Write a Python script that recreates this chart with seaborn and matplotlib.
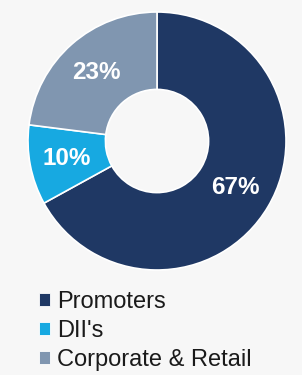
# Donut chart of shareholding pattern
import numpy as np
import pandas as pd
import seaborn as sns
import matplotlib
matplotlib.use('Agg')
import matplotlib.pyplot as plt

# %%
# data
holders = ["Promoters", "DII's", "Corporate & Retail"]
shares = [67, 10, 23]
colours = ['#1f3864', '#17a9e1', '#8096b0']

# %%
sns.set_style('white')
plt.rcParams['font.family'] = ['Liberation Sans', 'DejaVu Sans']
bg = '#f7f7f7'

fig = plt.figure(figsize=(3.02, 3.75), dpi=100)
fig.patch.set_facecolor(bg)

ax = fig.add_axes([28 / 302, 105 / 375, 258 / 302, 258 / 375])
ax.set_facecolor(bg)
wedges, texts, autotexts = ax.pie(
    shares, colors=colours, startangle=90, counterclock=False,
    radius=1.0, autopct='%d%%', pctdistance=0.71,
    wedgeprops=dict(width=0.6, edgecolor='white', linewidth=1.2),
    textprops=dict(color='white', fontsize=17.5, fontweight='bold'))
ax.set(xlim=(-1, 1), ylim=(-1, 1), aspect='equal')
ax.axis('off')

fig.legend(wedges, holders, loc='upper left',
           bbox_to_anchor=(39 / 302, 1 - 291 / 375),
           frameon=False, fontsize=17, borderpad=0, borderaxespad=0,
           handlelength=0.45, handleheight=0.45, handletextpad=0.3,
           labelspacing=0.29, labelcolor='#1a1a1a')
for h in fig.legends[0].legend_handles:
    h.set_edgecolor('white')
    h.set_linewidth(0.6)

fig.savefig('out.png', dpi=100, facecolor=bg)
